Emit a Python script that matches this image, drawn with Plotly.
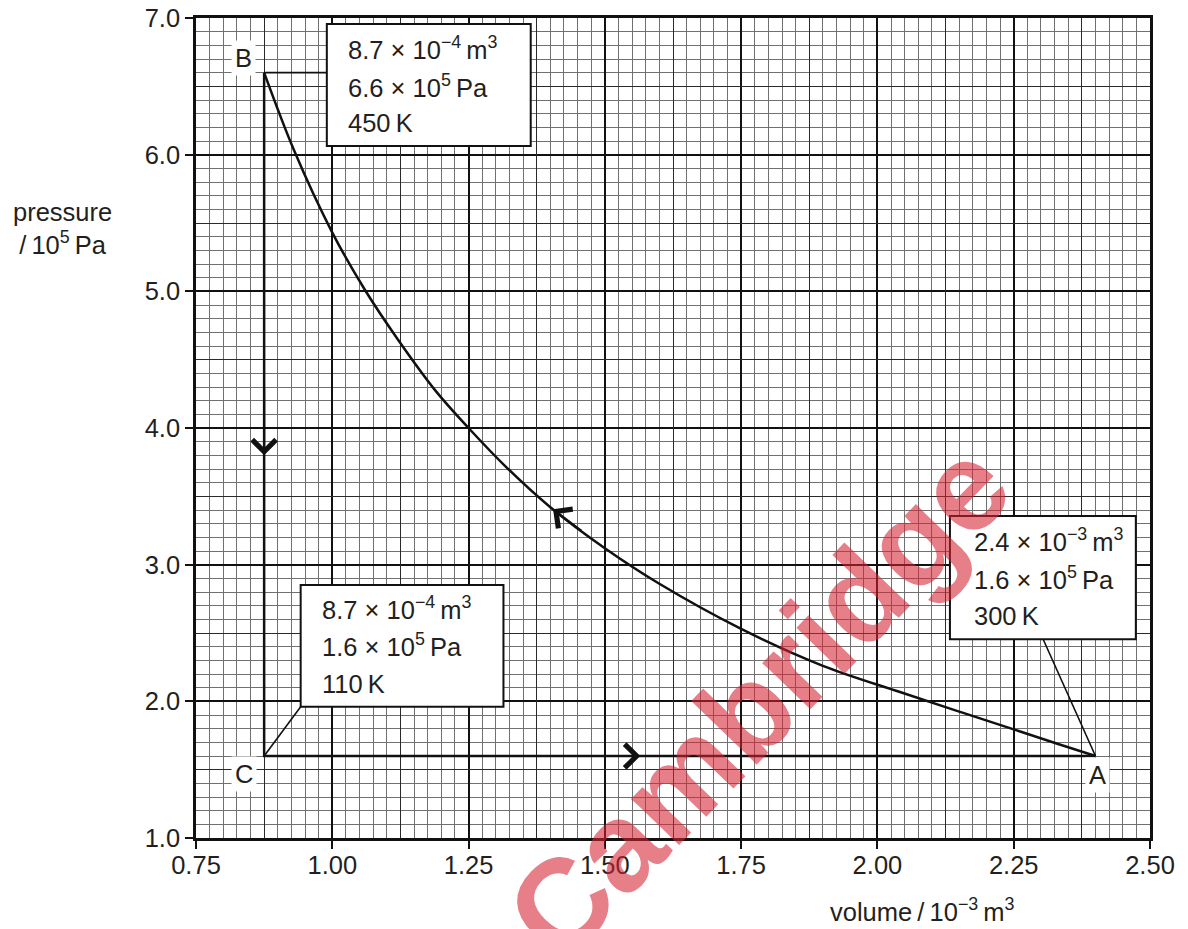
import numpy as np
import plotly.graph_objects as go

# ---------------- data ----------------
volume_curve = [0.875, 0.93, 1.00, 1.06, 1.12, 1.19, 1.25, 1.32, 1.40, 1.50,
                1.60, 1.75, 1.90, 2.04, 2.15, 2.25, 2.33, 2.40]
pressure_curve = [6.60, 6.03, 5.43, 5.01, 4.65, 4.27, 4.00, 3.71, 3.42, 3.12,
                  2.86, 2.53, 2.26, 2.07, 1.925, 1.795, 1.69, 1.60]

state_names = ["A", "B", "C"]
state_volume = [2.40, 0.875, 0.875]
state_pressure = [1.60, 6.60, 1.60]
state_volume_text = ["2.4 × 10<sup>−3</sup>", "8.7 × 10<sup>−4</sup>", "8.7 × 10<sup>−4</sup>"]
state_pressure_text = ["1.6 × 10<sup>5</sup>", "6.6 × 10<sup>5</sup>", "1.6 × 10<sup>5</sup>"]
state_temperature = [300, 450, 110]

x_ticks = [0.75, 1.00, 1.25, 1.50, 1.75, 2.00, 2.25, 2.50]
y_ticks = [1.0, 2.0, 3.0, 4.0, 5.0, 6.0, 7.0]

x_title = "volume\u2009/\u200910<sup>−3</sup>\u2009m<sup>3</sup>"
y_title = "pressure<br>/\u200910<sup>5</sup>\u2009Pa"
watermark = "Cambridge"

# ---------------- styling ----------------
FONT = "Liberation Sans, Arial, Helvetica, sans-serif"
TXT = "#231f20"
FS = 25.5
PAGE = 0                      # body margin removed by post_script
W, H = 1188, 929
ML, MT = 196, 18
PW, PH = 954, 820
MR, MB = W - ML - PW, H - MT - PH


def paper_x(px):
    return (px - PAGE - ML) / PW


def paper_y(py):
    return (MT + PH - (py - PAGE)) / PH


xr = [x_ticks[0], x_ticks[-1]]
yr = [y_ticks[0], y_ticks[-1]]

medium_x = [float(v) for v in np.arange(xr[0], xr[1] + 1e-9, 0.125)
            if abs((v - xr[0]) / 0.25 - round((v - xr[0]) / 0.25)) > 1e-6]
medium_y = [float(v) for v in np.arange(yr[0], yr[1] + 1e-9, 0.5) if abs(v - round(v)) > 1e-6]

fig = go.Figure()

iA, iB, iC = 0, 1, 2
fig.add_trace(go.Scatter(
    x=[state_volume[iB], state_volume[iC], state_volume[iA]],
    y=[state_pressure[iB], state_pressure[iC], state_pressure[iA]],
    mode="lines", line=dict(color="#111", width=2.5), hoverinfo="skip", showlegend=False))
fig.add_trace(go.Scatter(
    x=volume_curve, y=pressure_curve, mode="lines",
    line=dict(color="#111", width=2.5, shape="spline", smoothing=1.0),
    hoverinfo="skip", showlegend=False))
fig.add_trace(go.Scatter(x=[xr[0]], y=[yr[0]], xaxis="x2", yaxis="y2", mode="markers",
                         marker=dict(opacity=0), hoverinfo="skip", showlegend=False))

shapes = []
annotations = []

boxes = {
    "B": dict(x0=0.990, x1=1.364, y0=6.063, y1=6.956, tx=1.026, ty=[6.780, 6.502, 6.235],
              leader=(0.990, 6.60)),
    "C": dict(x0=0.942, x1=1.314, y0=1.961, y1=2.851, tx=0.977, ty=[2.683, 2.409, 2.127],
              leader=(0.942, 1.961)),
    "A": dict(x0=2.133, x1=2.474, y0=2.454, y1=3.356, tx=2.173, ty=[3.177, 2.906, 2.625],
              leader=(2.304, 2.454)),
}
label_offset = {"A": (0.0046, -0.139), "B": (-0.038, 0.107), "C": (-0.037, -0.131)}

for i, name in enumerate(state_names):
    b = boxes[name]
    sx, sy = state_volume[i], state_pressure[i]
    shapes.append(dict(type="line", xref="x", yref="y", x0=sx, y0=sy,
                       x1=b["leader"][0], y1=b["leader"][1],
                       line=dict(color="#111", width=1.6), layer="above"))
    shapes.append(dict(type="rect", xref="x", yref="y", x0=b["x0"], x1=b["x1"],
                       y0=b["y0"], y1=b["y1"], fillcolor="white",
                       line=dict(color="#111", width=2), layer="above"))
    lines = [state_volume_text[i] + "\u2009m<sup>3</sup>",
             state_pressure_text[i] + "\u2009Pa",
             f"{state_temperature[i]}\u2009K"]
    for t, yy in zip(lines, b["ty"]):
        annotations.append(dict(x=b["tx"], y=yy, xref="x", yref="y", text=t,
                                showarrow=False, xanchor="left", yanchor="middle",
                                font=dict(family=FONT, size=FS, color=TXT)))
    dx, dy = label_offset[name]
    annotations.append(dict(x=sx + dx, y=sy + dy, xref="x", yref="y", text=name,
                            showarrow=False, xanchor="center", yanchor="middle",
                            bgcolor="white", borderpad=3,
                            font=dict(family=FONT, size=FS, color=TXT)))

# direction arrows (open chevrons)
arrow_common = dict(xref="x", yref="y", axref="x", ayref="y", text="", showarrow=True,
                    arrowhead=4, arrowsize=2.3, arrowwidth=2, arrowcolor="#111", standoff=0)
annotations.append(dict(x=state_volume[iB], y=3.80, ax=state_volume[iB], ay=4.30, **arrow_common))
annotations.append(dict(x=1.565, y=state_pressure[iC], ax=1.40, ay=state_pressure[iC], **arrow_common))
cx, tx = 1.405, 1.46
annotations.append(dict(x=cx, y=float(np.interp(cx, volume_curve, pressure_curve)),
                        ax=tx, ay=float(np.interp(tx, volume_curve, pressure_curve)),
                        **arrow_common))

# axis titles
annotations.append(dict(x=paper_x(62), y=paper_y(228), xref="paper", yref="paper",
                        text=y_title, showarrow=False, xanchor="center", yanchor="middle",
                        align="center", font=dict(family=FONT, size=FS, color=TXT)))
annotations.append(dict(x=paper_x(922), y=paper_y(910), xref="paper", yref="paper",
                        text=x_title, showarrow=False, xanchor="center", yanchor="middle",
                        font=dict(family=FONT, size=FS, color=TXT)))

# watermark
annotations.append(dict(x=paper_x(758), y=paper_y(700), xref="paper", yref="paper",
                        text=watermark, showarrow=False, textangle=-46,
                        xanchor="center", yanchor="middle",
                        font=dict(family=FONT, size=126, color="rgba(212,35,50,0.58)",
                                  weight="bold")))

axis_font = dict(family=FONT, size=FS, color=TXT)
common_axis = dict(showgrid=True, gridcolor="#111", gridwidth=1.6,
                   showline=True, linecolor="#111", linewidth=2.5, mirror=True,
                   ticks="outside", ticklen=8, tickwidth=2, tickcolor="#111",
                   zeroline=False, tickfont=axis_font, automargin=False, tickmode="array",
                   ticklabeloverflow="allow")
fig.update_layout(
    width=W, height=H,
    margin=dict(l=ML, r=MR, t=MT, b=MB, pad=0, autoexpand=False),
    paper_bgcolor="white", plot_bgcolor="white",
    showlegend=False,
    xaxis=dict(range=xr, tickvals=x_ticks, ticktext=[f"{v:.2f}" for v in x_ticks],
               minor=dict(dtick=0.025, tick0=xr[0], showgrid=True, gridcolor="#707070", gridwidth=1),
               ticklabelstandoff=-5, **common_axis),
    yaxis=dict(range=yr, tickvals=y_ticks, ticktext=[f"{v:.1f}" for v in y_ticks],
               minor=dict(dtick=0.1, tick0=yr[0], showgrid=True, gridcolor="#707070", gridwidth=1),
               **common_axis),
    xaxis2=dict(range=xr, overlaying="x", tickmode="array", tickvals=medium_x,
                showgrid=True, gridcolor="#2a2a2a", gridwidth=1.3, showticklabels=False,
                ticks="", showline=False, zeroline=False, automargin=False),
    yaxis2=dict(range=yr, overlaying="y", tickmode="array", tickvals=medium_y,
                showgrid=True, gridcolor="#2a2a2a", gridwidth=1.3, showticklabels=False,
                ticks="", showline=False, zeroline=False, automargin=False),
    shapes=shapes,
    annotations=annotations,
)

fig.write_html("out.html", config={"displayModeBar": False},
               post_script="document.body.style.margin='0px';document.body.style.overflow='hidden';")
